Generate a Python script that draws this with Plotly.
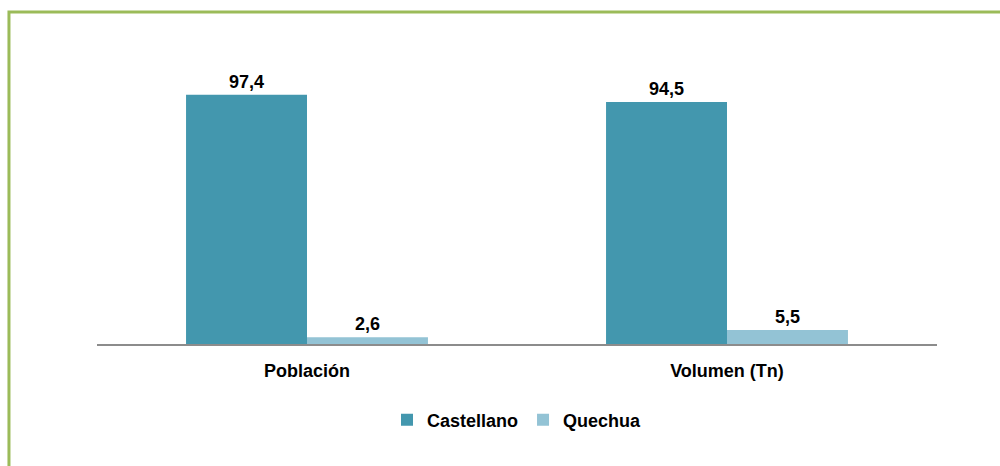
import plotly.graph_objects as go

categories = ["Población", "Volumen (Tn)"]
castellano = [97.4, 94.5]
quechua = [2.6, 5.5]

FONT = "Liberation Sans, Arial, sans-serif"
FS = 18

fig = go.Figure()
fig.add_trace(go.Bar(
    x=categories, y=castellano, name="<b>Castellano</b>",
    marker=dict(color="#4397AE", line=dict(width=0)),
    text=castellano, texttemplate="<b>%{y:.1f}</b>", textposition="outside",
    textfont=dict(family=FONT, size=FS, color="#000000"), cliponaxis=False,
))
fig.add_trace(go.Bar(
    x=categories, y=quechua, name="<b>Quechua</b>",
    marker=dict(color="#93C3D5", line=dict(width=0)),
    text=quechua, texttemplate="<b>%{y:.1f}</b>", textposition="outside",
    textfont=dict(family=FONT, size=FS, color="#000000"), cliponaxis=False,
))

fig.update_layout(
    width=1000, height=466,
    margin=dict(l=97, r=63, t=88, b=122),
    paper_bgcolor="white", plot_bgcolor="white",
    separators=",.",
    barmode="group", bargap=0.424, bargroupgap=0,
    font=dict(family=FONT, size=FS, color="#000000"),
    showlegend=True,
    legend=dict(orientation="h", x=0.5, xanchor="center", y=-0.297, yanchor="middle",
                font=dict(family=FONT, size=FS, color="#000000"),
                itemwidth=30, tracegroupgap=0),
    xaxis=dict(showline=True, linecolor="#8c8c8c", linewidth=2,
               ticks="outside", ticklen=9, tickcolor="rgba(0,0,0,0)",
               tickfont=dict(family=FONT, size=FS, color="#000000"),
               tickvals=categories, ticktext=["<b>%s</b>" % c for c in categories]),
    yaxis=dict(range=[0, 100], visible=False, showgrid=False, zeroline=False),
    shapes=[dict(type="rect", xref="paper", yref="paper",
                 x0=-0.1048, x1=1.2, y0=-0.6, y1=1.297,
                 line=dict(color="#9BBB59", width=3), fillcolor="rgba(0,0,0,0)")],
)

fig.write_html("out.html", config={"displayModeBar": False},
               post_script="document.body.style.margin='0';")
